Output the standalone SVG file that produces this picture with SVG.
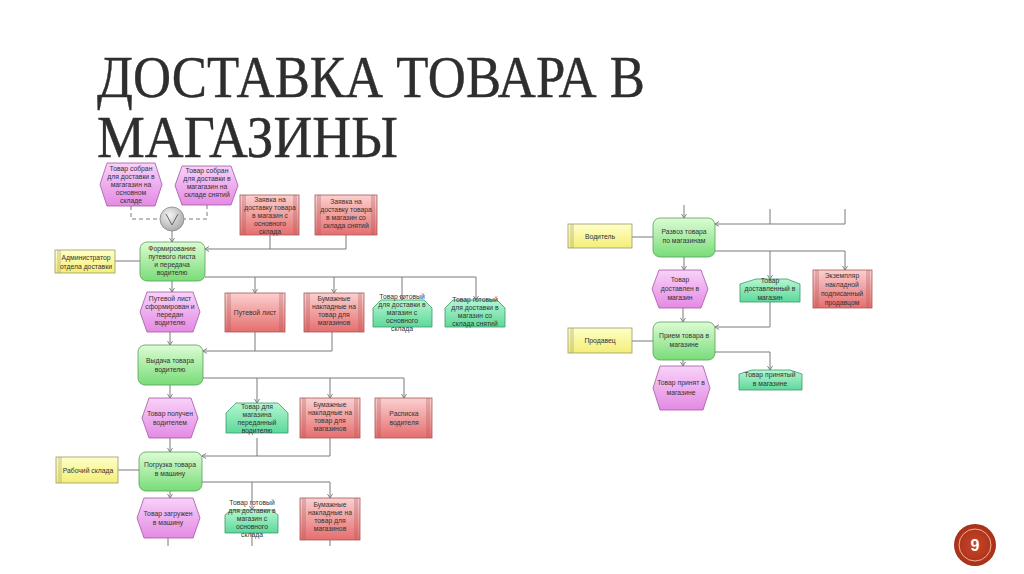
<svg xmlns="http://www.w3.org/2000/svg" width="1024" height="574" viewBox="0 0 1024 574">
<defs>
<linearGradient id="gEv" x1="0" y1="0" x2="0" y2="1"><stop offset="0" stop-color="#f8d2f8"/><stop offset="1" stop-color="#e48ae4"/></linearGradient>
<linearGradient id="gFn" x1="0" y1="0" x2="0" y2="1"><stop offset="0" stop-color="#dcfcd4"/><stop offset="1" stop-color="#79dc79"/></linearGradient>
<linearGradient id="gDoc" x1="0" y1="0" x2="0" y2="1"><stop offset="0" stop-color="#fbd0d0"/><stop offset="1" stop-color="#e66e6e"/></linearGradient>
<linearGradient id="gOrg" x1="0" y1="0" x2="0" y2="1"><stop offset="0" stop-color="#ffffc8"/><stop offset="1" stop-color="#f4ee78"/></linearGradient>
<linearGradient id="gPr" x1="0" y1="0" x2="0" y2="1"><stop offset="0" stop-color="#b4f6d2"/><stop offset="1" stop-color="#5ed89a"/></linearGradient>
<radialGradient id="gCir" cx="0.4" cy="0.35" r="0.7"><stop offset="0" stop-color="#f4f4f4"/><stop offset="1" stop-color="#a8a8a8"/></radialGradient>
<radialGradient id="gBadge" cx="0.5" cy="0.5" r="0.5"><stop offset="0" stop-color="#c8452a"/><stop offset="1" stop-color="#a8301a"/></radialGradient>
<marker id="ar" markerWidth="6" markerHeight="6" refX="4.5" refY="3" orient="auto" markerUnits="userSpaceOnUse"><path d="M0.5,0.5 L4.5,3 L0.5,5.5" fill="none" stroke="#777" stroke-width="0.9"/></marker>
</defs>
<style>
.t{font-family:"Liberation Sans",Arial,sans-serif;font-size:6.8px;fill:#333;text-anchor:middle}
.ttl{font-family:"Liberation Serif","Times New Roman",serif;font-size:60px;fill:#2e2e2e;stroke:#2e2e2e;stroke-width:0.4}
.ev{fill:url(#gEv);stroke:#a355a3;stroke-width:0.8}
.fn{fill:url(#gFn);stroke:#58a058;stroke-width:0.8}
.doc{fill:url(#gDoc);stroke:#a85858;stroke-width:0.8}
.bar{stroke:#a85858;stroke-width:0.6;fill:none}
.org{fill:url(#gOrg);stroke:#9a9a6a;stroke-width:0.8}
.obar{stroke:#9a9a6a;stroke-width:0.6;fill:none}
.pr{fill:url(#gPr);stroke:#3a9a6a;stroke-width:0.8}
.c{fill:none;stroke:#7a7a7a;stroke-width:1}
.ca{fill:none;stroke:#7a7a7a;stroke-width:1;marker-end:url(#ar)}
.cd{fill:none;stroke:#7a7a7a;stroke-width:1;stroke-dasharray:4 3}
</style>
<rect width="1024" height="574" fill="#ffffff"/>

<g id="title">
<text class="ttl" x="97" y="97" textLength="548" lengthAdjust="spacingAndGlyphs">ДОСТАВКА ТОВАРА В</text>
<text class="ttl" x="97" y="157" textLength="301" lengthAdjust="spacingAndGlyphs">МАГАЗИНЫ</text>
</g>

<g id="connectors">
<path class="cd" d="M131,206 V219 H160"/>
<path class="cd" d="M207,205 V219 H184"/>
<path class="ca" d="M172,231 V242"/>
<path class="c" d="M270,235 V249"/>
<path class="ca" d="M346,235 V249 H205"/>
<path class="c" d="M115,261 H140"/>
<path class="c" d="M205,277 H476"/>
<path class="ca" d="M255,277 V293"/>
<path class="ca" d="M334,277 V293"/>
<path class="ca" d="M402,277 V300"/>
<path class="ca" d="M476,277 V300"/>
<path class="ca" d="M172,281 V292"/>
<path class="ca" d="M170,332 V345"/>
<path class="c" d="M255,332 V351"/>
<path class="ca" d="M332,332 V351 H203"/>
<path class="c" d="M203,378 H404"/>
<path class="ca" d="M257,378 V403"/>
<path class="ca" d="M330,378 V398"/>
<path class="ca" d="M404,378 V398"/>
<path class="ca" d="M170,385 V398"/>
<path class="ca" d="M170,438 V452"/>
<path class="c" d="M257,438 V456"/>
<path class="ca" d="M330,438 V456 H202"/>
<path class="c" d="M118,470 H139"/>
<path class="c" d="M202,482 H330"/>
<path class="ca" d="M252,482 V510"/>
<path class="ca" d="M330,482 V498"/>
<path class="ca" d="M170,491 V498"/>
<path class="c" d="M168,538 V546"/>
<path class="c" d="M252,533 V546"/>
<path class="c" d="M330,540 V546"/>

<path class="ca" d="M684,205 V218"/>
<path class="c" d="M770,209 V224"/>
<path class="ca" d="M845,209 V224 H715"/>
<path class="c" d="M632,237 H653"/>
<path class="c" d="M715,251 H845"/>
<path class="ca" d="M770,251 V279"/>
<path class="ca" d="M845,251 V270"/>
<path class="ca" d="M684,257 V270"/>
<path class="ca" d="M683,308 V322"/>
<path class="ca" d="M770,302 V327 H715"/>
<path class="c" d="M632,341 H653"/>
<path class="ca" d="M715,352 H770 V370"/>
<path class="ca" d="M683,360 V366"/>
</g>

<g id="xor1">
<circle cx="172" cy="219" r="12" fill="url(#gCir)" stroke="#888" stroke-width="0.8"/>
<path d="M166,214 L172,225 L178,214" fill="none" stroke="#666" stroke-width="1"/>
</g>

<g id="e1"><polygon class="ev" points="107,163 155,163 162,184.5 155,206 107,206 100,184.5"/>
<text class="t" x="131" y="170.5">Товар собран</text><text class="t" x="131" y="178.5">для доставки в</text><text class="t" x="131" y="186.5">магагазин на</text><text class="t" x="131" y="194.5">основном</text><text class="t" x="131" y="202.5">складе</text></g>
<g id="e2"><polygon class="ev" points="182,166 231,166 238,185.5 231,205 182,205 175,185.5"/>
<text class="t" x="207" y="173">Товар собран</text><text class="t" x="207" y="181">для доставки в</text><text class="t" x="207" y="189">магагазин на</text><text class="t" x="207" y="197">складе снятий</text></g>

<g id="d1"><rect class="doc" x="240" y="195" width="59" height="40"/><path class="bar" d="M243,195 V235 M245,195 V235 M296,195 V235 M294,195 V235"/>
<text class="t" x="270" y="202">Заявка на</text><text class="t" x="270" y="210">доставку товара</text><text class="t" x="270" y="218">в магазин с</text><text class="t" x="270" y="226">основного</text><text class="t" x="270" y="234">склада</text></g>
<g id="d2"><rect class="doc" x="315" y="195" width="62" height="40"/><path class="bar" d="M318,195 V235 M320,195 V235 M374,195 V235 M372,195 V235"/>
<text class="t" x="346" y="204">Заявка на</text><text class="t" x="346" y="212">доставку товара</text><text class="t" x="346" y="220">в магазин со</text><text class="t" x="346" y="228">склада снятий</text></g>

<g id="o1"><rect class="org" x="55" y="250" width="60" height="23"/><path class="obar" d="M58,250 V273 M60,250 V273"/>
<text class="t" x="86" y="260">Администратор</text><text class="t" x="86" y="269">отдела доставки</text></g>
<g id="f1"><rect class="fn" x="140" y="242" width="65" height="39" rx="7"/>
<text class="t" x="172" y="251">Формирование</text><text class="t" x="172" y="259">путевого листа</text><text class="t" x="172" y="267">и передача</text><text class="t" x="172" y="275">водителю</text></g>

<g id="e3"><polygon class="ev" points="147,292 193,292 200,312 193,332 147,332 140,312"/>
<text class="t" x="170" y="301">Путевой лист</text><text class="t" x="170" y="309">сформирован и</text><text class="t" x="170" y="317">передан</text><text class="t" x="170" y="325">водителю</text></g>
<g id="d3"><rect class="doc" x="225" y="293" width="60" height="39"/><path class="bar" d="M228,293 V332 M230,293 V332 M282,293 V332 M280,293 V332"/>
<text class="t" x="255" y="315">Путевой лист</text></g>
<g id="d4"><rect class="doc" x="304" y="293" width="60" height="39"/><path class="bar" d="M307,293 V332 M309,293 V332 M361,293 V332 M359,293 V332"/>
<text class="t" x="334" y="301">Бумажные</text><text class="t" x="334" y="309">накладные на</text><text class="t" x="334" y="317">товар для</text><text class="t" x="334" y="325">магазинов</text></g>
<g id="g1"><polygon class="pr" points="373,308 381,300 424,300 432,308 432,327 373,327"/>
<text class="t" x="402" y="299">Товар готовый</text><text class="t" x="402" y="307">для доставки в</text><text class="t" x="402" y="315">магазин с</text><text class="t" x="402" y="323">основного</text><text class="t" x="402" y="331">склада</text></g>
<g id="g2"><polygon class="pr" points="445,308 453,300 497,300 505,308 505,327 445,327"/>
<text class="t" x="475" y="302">Товар готовый</text><text class="t" x="475" y="310">для доставки в</text><text class="t" x="475" y="318">магазин со</text><text class="t" x="475" y="326">склада снятий</text></g>

<g id="f2"><rect class="fn" x="138" y="345" width="65" height="40" rx="7"/>
<text class="t" x="170" y="363">Выдача товара</text><text class="t" x="170" y="372">водителю</text></g>

<g id="e4"><polygon class="ev" points="149,398 191,398 198,418 191,438 149,438 142,418"/>
<text class="t" x="170" y="416">Товар получен</text><text class="t" x="170" y="425">водителем</text></g>
<g id="g3"><polygon class="pr" points="226,413 236,403 278,403 288,413 288,433 226,433"/>
<text class="t" x="257" y="409">Товар для</text><text class="t" x="257" y="417">магазина</text><text class="t" x="257" y="425">переданный</text><text class="t" x="257" y="433">водителю</text></g>
<g id="d5"><rect class="doc" x="300" y="398" width="60" height="40"/><path class="bar" d="M303,398 V438 M305,398 V438 M357,398 V438 M355,398 V438"/>
<text class="t" x="330" y="407">Бумажные</text><text class="t" x="330" y="415">накладные на</text><text class="t" x="330" y="423">товар для</text><text class="t" x="330" y="431">магазинов</text></g>
<g id="d6"><rect class="doc" x="375" y="398" width="57" height="40"/><path class="bar" d="M378,398 V438 M380,398 V438 M429,398 V438 M427,398 V438"/>
<text class="t" x="404" y="416">Расписка</text><text class="t" x="404" y="425">водителя</text></g>

<g id="o2"><rect class="org" x="56" y="457" width="62" height="26"/><path class="obar" d="M59,457 V483 M61,457 V483"/>
<text class="t" x="88" y="473">Рабочий склада</text></g>
<g id="f3"><rect class="fn" x="139" y="452" width="63" height="39" rx="7"/>
<text class="t" x="170" y="467">Погрузка товара</text><text class="t" x="170" y="476">в машину</text></g>

<g id="e5"><polygon class="ev" points="144,498 193,498 200,518 193,538 144,538 137,518"/>
<text class="t" x="168" y="516">Товар загружен</text><text class="t" x="168" y="525">в машину</text></g>
<g id="g4"><polygon class="pr" points="225,515 231,510 272,510 278,515 278,533 225,533"/>
<text class="t" x="252" y="505">Товар готовый</text><text class="t" x="252" y="513">для доставки в</text><text class="t" x="252" y="521">магазин с</text><text class="t" x="252" y="529">основного</text><text class="t" x="252" y="537">склада</text></g>
<g id="d7"><rect class="doc" x="300" y="498" width="60" height="42"/><path class="bar" d="M303,498 V540 M305,498 V540 M357,498 V540 M355,498 V540"/>
<text class="t" x="330" y="507">Бумажные</text><text class="t" x="330" y="515">накладные на</text><text class="t" x="330" y="523">товар для</text><text class="t" x="330" y="531">магазинов</text></g>

<g id="o3"><rect class="org" x="568" y="224" width="64" height="24"/><path class="obar" d="M571,224 V248 M573,224 V248"/>
<text class="t" x="600" y="239">Водитель</text></g>
<g id="f4"><rect class="fn" x="653" y="218" width="62" height="39" rx="7"/>
<text class="t" x="684" y="234">Развоз товара</text><text class="t" x="684" y="243">по магазинам</text></g>
<g id="e6"><polygon class="ev" points="659,270 701,270 708,289 701,308 659,308 652,289"/>
<text class="t" x="680" y="282">Товар</text><text class="t" x="680" y="291">доставлен в</text><text class="t" x="680" y="300">магазин</text></g>
<g id="g5"><polygon class="pr" points="740,284 756,279 787,279 800,284 800,302 740,302"/>
<text class="t" x="770" y="283">Товар</text><text class="t" x="770" y="291">доставленный в</text><text class="t" x="770" y="300">магазин</text></g>
<g id="d8"><rect class="doc" x="813" y="270" width="59" height="38"/><path class="bar" d="M816,270 V308 M818,270 V308 M869,270 V308 M867,270 V308"/>
<text class="t" x="842" y="278">Экземпляр</text><text class="t" x="842" y="287">накладной</text><text class="t" x="842" y="296">подписанный</text><text class="t" x="842" y="305">продавцом</text></g>

<g id="o4"><rect class="org" x="568" y="328" width="64" height="25"/><path class="obar" d="M571,328 V353 M573,328 V353"/>
<text class="t" x="600" y="343">Продавец</text></g>
<g id="f5"><rect class="fn" x="653" y="322" width="62" height="38" rx="7"/>
<text class="t" x="684" y="338">Прием товара в</text><text class="t" x="684" y="347">магазине</text></g>
<g id="e7"><polygon class="ev" points="660,366 703,366 710,388 703,410 660,410 653,388"/>
<text class="t" x="681" y="385">Товар принят в</text><text class="t" x="681" y="395">магазине</text></g>
<g id="g6"><polygon class="pr" points="739,374 752,370 790,370 802,374 802,390 739,390"/>
<text class="t" x="770" y="377">Товар принятый</text><text class="t" x="770" y="386">в магазине</text></g>

<g id="badge">
<circle cx="975" cy="545" r="21" fill="url(#gBadge)"/>
<circle cx="975" cy="545" r="16" fill="none" stroke="#f0b090" stroke-width="1"/>
<text x="975" y="551" font-family="Liberation Sans,Arial,sans-serif" font-size="16" font-weight="bold" fill="#ffffff" text-anchor="middle">9</text>
</g>
</svg>
